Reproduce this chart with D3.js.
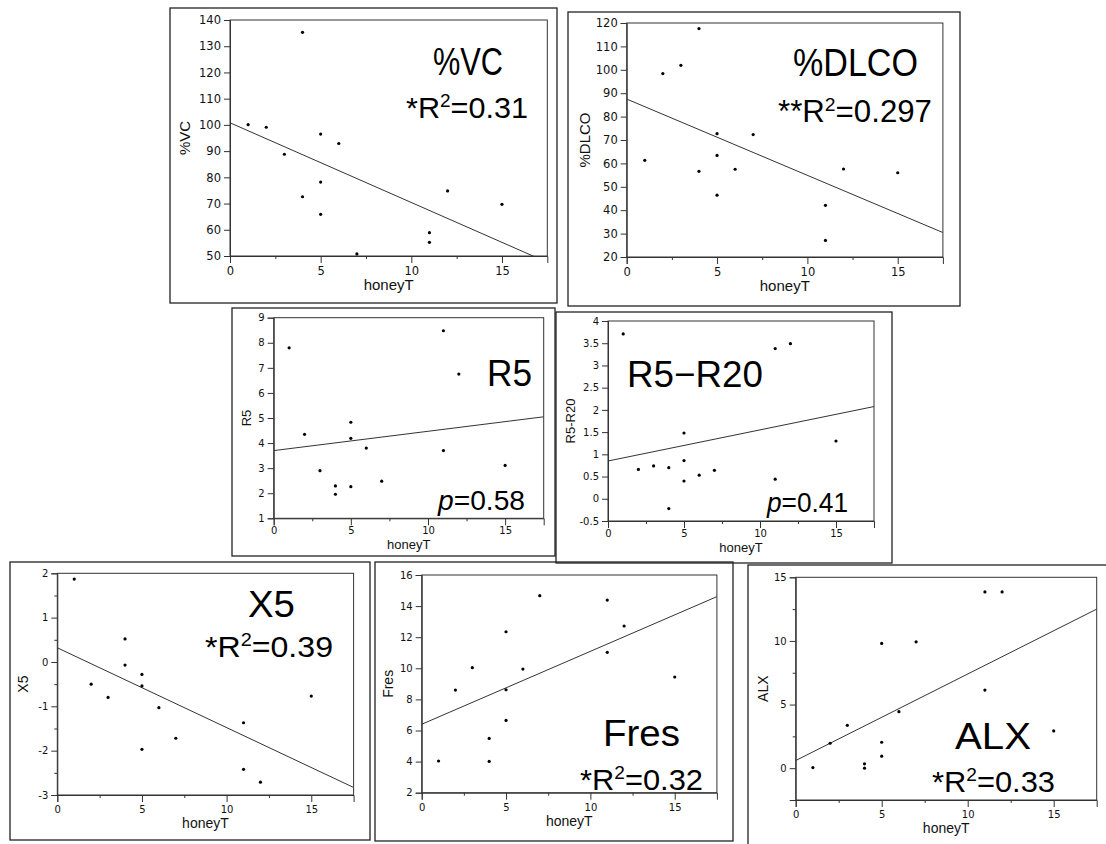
<!DOCTYPE html>
<html>
<meta charset="UTF-8" />
<script src="https://cdn.jsdelivr.net/npm/d3@7"></script>
<style>
*{margin:0; padding:0;}
body{background:#fff;}
</style>
<body>
<div id="chart"></div>
<script>
// honeyT is shared by all panels
var honeyT = [1, 2, 3, 4, 4, 5, 5, 5, 6, 7, 11, 11, 12, 15];
var vc     = [100.1, 99.1, 88.8, 135.3, 72.6, 96.5, 78.2, 65.9, 92.9, 50.8, 58.9, 55.2, 74.8, 69.7];
var dlco   = [61.3, 98.4, 101.9, 117.6, 56.6, 72.7, 63.4, 46.4, 57.5, 72.3, 42.1, 27.1, 57.6, 56.0];
var r5     = [7.8, 4.35, 2.9, 2.29, 1.96, 4.83, 4.19, 2.26, 3.8, 2.48, 8.48, 3.70, 6.75, 3.11];
var r5r20  = [3.71, 0.66, 0.74, 0.70, -0.22, 1.48, 0.86, 0.40, 0.53, 0.64, 3.38, 0.44, 3.49, 1.30];
var x5     = [1.87, -0.50, -0.80, 0.52, -0.07, -0.28, -0.54, -1.97, -1.03, -1.72, -1.37, -2.42, -2.71, -0.77];
var fres   = [4.04, 8.6, 10.04, 5.49, 4.01, 12.35, 8.62, 6.65, 9.95, 14.67, 14.39, 11.03, 12.72, 9.44];
var alx    = [0.05, 1.96, 3.37, 0.34, 0.0, 9.8, 2.04, 0.94, 4.44, 9.93, 13.85, 6.14, 13.85, 2.93];

// fitted lines: [intercept, slope]
var fitVC = [100.8, -3.04], fitDLCO = [87.5, -3.26], fitR5 = [3.70, 0.077], fitR5R20 = [0.85, 0.070];
var fitX5 = [0.32, -0.18], fitFres = [6.4, 0.469], fitALX = [0.6, 0.68];

var xTicks = [0, 5, 10, 15];
var xMinor = [2.5, 7.5, 12.5];

var panels = [
 {label:"%VC", y:vc, fit:fitVC, yDomain:[50,140], yTicks:d3.range(50,141,10), yMinor:[],
  box:[170,8,557,303], plot:[230,20,547.3,256], tf:11.5, pad:4, xt:15, yt:15, yOff:45, xOff:34,
  title:{x:433,y:75,w:70,size:39}, stat:{pre:"*", r2:true, val:"0.31", x:406, y:118, w:122, size:30}},
 {label:"%DLCO", y:dlco, fit:fitDLCO, yDomain:[20,120], yTicks:d3.range(20,121,10), yMinor:[],
  box:[568,12,960,306], plot:[626.7,23,942.9,257], tf:11.5, pad:4, xt:15, yt:15, yOff:42, xOff:34,
  title:{x:793,y:76,w:125,size:39}, stat:{pre:"**", r2:true, val:"0.297", x:778, y:122, w:154, size:31}},
 {label:"R5", y:r5, fit:fitR5, yDomain:[1,9], yTicks:d3.range(1,10,1), yMinor:[],
  box:[232,308,555,556], plot:[273.7,317.7,543.7,518.3], tf:10, pad:2, xt:13, yt:13, yOff:27, xOff:31,
  title:{x:487,y:386,w:45,size:36}, stat:{pre:"", r2:false, val:"0.58", x:438, y:510, w:87, size:28}},
 {label:"R5-R20", y:r5r20, fit:fitR5R20, yDomain:[-0.5,4], yTicks:d3.range(-0.5,4.01,0.5), yMinor:[],
  box:[556,312,892,563], plot:[608,321,874,521], tf:10, pad:2, xt:13, yt:13, yOff:38, xOff:31,
  title:{x:627,y:387,w:136,size:37, text:"R5\u2212R20"}, stat:{pre:"", r2:false, val:"0.41", x:767, y:512, w:81, size:28}},
 {label:"X5", y:x5, fit:fitX5, yDomain:[-3,2], yTicks:d3.range(-3,2.01,1), yMinor:d3.range(-2.5,2,1),
  box:[10,562,370,840], plot:[57.3,573.3,353.6,795], tf:10, pad:4, xt:14, yt:14, yOff:34, xOff:33,
  title:{x:248,y:617,w:47,size:37}, stat:{pre:"*", r2:true, val:"0.39", x:205, y:657, w:128, size:30}},
 {label:"Fres", y:fres, fit:fitFres, yDomain:[2,16], yTicks:d3.range(2,16.1,2), yMinor:[],
  box:[375,562,733,841], plot:[421.7,575,716.9,792.7], tf:10, pad:4, xt:14, yt:14, yOff:34, xOff:33,
  title:{x:603,y:746,w:77,size:37}, stat:{pre:"*", r2:true, val:"0.32", x:580, y:790, w:123, size:30}},
 {label:"ALX", y:alx, fit:fitALX, yDomain:[-2.5,15], yTicks:[0,5,10,15], yMinor:[-2.5,2.5,7.5,12.5],
  box:[748,565,1110,850], plot:[795.7,577.3,1096.7,800], tf:10, pad:4, xt:14, yt:14, yOff:33, xOff:33,
  title:{x:955,y:749,w:76,size:37}, stat:{pre:"*", r2:true, val:"0.33", x:932, y:792, w:123, size:30}}
];

var svg = d3.select("#chart").append("svg")
  .attr("width", 1106).attr("height", 844)
  .style("display","block").style("background","#fff");

var tickFontFamily = "'DejaVu Sans', sans-serif";
var bigFont = "'Liberation Sans', Arial, sans-serif";

panels.forEach(function(p, i) {
  var g = svg.append("g");
  var b = p.box, pl = p.plot;

  // outer paper box
  g.append("rect")
    .attr("x", b[0]).attr("y", b[1])
    .attr("width", b[2]-b[0]).attr("height", b[3]-b[1])
    .attr("fill", "none").attr("stroke", "#222").attr("stroke-width", 1.3);

  var x = d3.scaleLinear().domain([0, 17.5]).range([pl[0], pl[2]]);
  var y = d3.scaleLinear().domain(p.yDomain).range([pl[3], pl[1]]);

  // clip for the fit line
  var cid = "clip" + i;
  svg.append("clipPath").attr("id", cid).append("rect")
    .attr("x", pl[0]).attr("y", pl[1])
    .attr("width", pl[2]-pl[0]).attr("height", pl[3]-pl[1]);

  // plot frame
  g.append("rect")
    .attr("x", pl[0]).attr("y", pl[1])
    .attr("width", pl[2]-pl[0]).attr("height", pl[3]-pl[1])
    .attr("fill", "none").attr("stroke", "#333").attr("stroke-width", 1);

  // x axis
  g.append("g").attr("transform", "translate(0," + pl[3] + ")")
    .call(d3.axisBottom(x).tickValues(xTicks).tickSize(7).tickPadding(p.pad).tickFormat(d3.format("d")));
  g.append("g").attr("transform", "translate(0," + pl[3] + ")")
    .call(d3.axisBottom(x).tickValues(xMinor).tickSize(3).tickFormat(""))
    .select(".domain").remove();

  // y axis
  g.append("g").attr("transform", "translate(" + pl[0] + ",0)")
    .call(d3.axisLeft(y).tickValues(p.yTicks).tickSize(6).tickPadding(3).tickFormat(function(d){ return String(+d.toFixed(1)); }));
  if (p.yMinor.length) {
    g.append("g").attr("transform", "translate(" + pl[0] + ",0)")
      .call(d3.axisLeft(y).tickValues(p.yMinor).tickSize(3).tickFormat(""))
      .select(".domain").remove();
  }
  g.selectAll(".domain").attr("stroke", "#333");
  g.selectAll(".tick line").attr("stroke", "#333");
  g.selectAll(".tick text").attr("font-family", tickFontFamily).attr("font-size", p.tf).attr("fill", "#111");

  // axis titles
  g.append("text")
    .attr("x", (pl[0]+pl[2])/2).attr("y", pl[3] + p.xOff)
    .attr("text-anchor", "middle")
    .attr("font-family", bigFont).attr("font-size", p.xt).attr("fill", "#111")
    .text("honeyT");
  g.append("text")
    .attr("transform", "translate(" + (pl[0]-p.yOff) + "," + ((pl[1]+pl[3])/2) + ") rotate(-90)")
    .attr("text-anchor", "middle").attr("dy", "0.35em")
    .attr("font-family", bigFont).attr("font-size", p.yt).attr("fill", "#111")
    .text(p.label);

  // fit line
  var f = p.fit;
  g.append("line")
    .attr("clip-path", "url(#" + cid + ")")
    .attr("x1", x(0)).attr("y1", y(f[0]))
    .attr("x2", x(17.5)).attr("y2", y(f[0] + f[1]*17.5))
    .attr("stroke", "#333").attr("stroke-width", 1);

  // points
  g.selectAll("circle.pt").data(honeyT.map(function(h, k){ return [h, p.y[k]]; }))
    .enter().append("circle")
    .attr("cx", function(d){ return x(d[0]); })
    .attr("cy", function(d){ return y(d[1]); })
    .attr("r", 1.6).attr("fill", "#000");

  // big label
  var t = p.title;
  g.append("text")
    .attr("x", t.x).attr("y", t.y)
    .attr("font-family", bigFont).attr("font-size", t.size).attr("fill", "#000")
    .attr("textLength", t.w).attr("lengthAdjust", "spacingAndGlyphs")
    .text(t.text || p.label);

  // statistic
  var s = p.stat;
  var st = g.append("text")
    .attr("x", s.x).attr("y", s.y)
    .attr("font-family", bigFont).attr("font-size", s.size).attr("fill", "#000")
    .attr("textLength", s.w).attr("lengthAdjust", "spacingAndGlyphs");
  if (s.r2) {
    st.append("tspan").text(s.pre + "R");
    st.append("tspan").attr("font-size", s.size*0.62).attr("dy", -s.size*0.36).text("2");
    st.append("tspan").attr("dy", s.size*0.36).text("=" + s.val);
  } else {
    st.append("tspan").attr("font-style", "italic").text("p");
    st.append("tspan").text("=" + s.val);
  }
});
</script>
</body>
</html>
